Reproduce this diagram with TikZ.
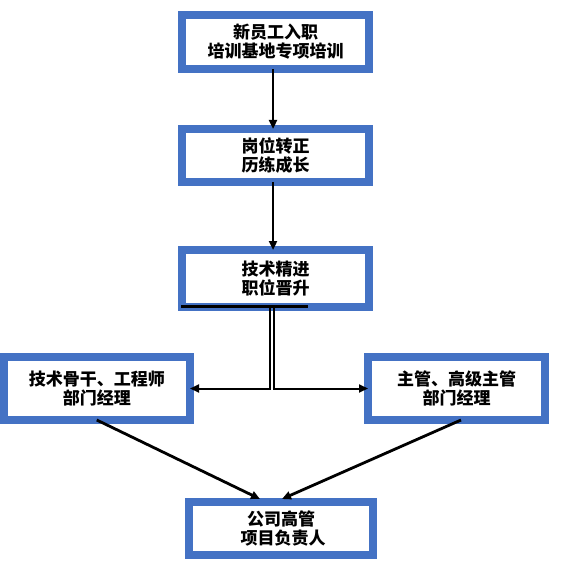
\documentclass[tikz,border=0pt]{standalone}
\usepackage{fontspec}
\setmainfont{Noto Sans CJK SC}
\usetikzlibrary{calc,arrows.meta}
\definecolor{boxblue}{HTML}{4472C4}
\tikzset{
  stagebox/.style={draw=boxblue, line width=8pt, fill=white, outer sep=0pt,
    inner sep=0pt, align=center, font=\fontsize{17}{19}\selectfont\bfseries},
  flowarrow/.style={line width=2.8pt, -{Triangle[length=9pt,width=8pt]}},
  elbowarrow/.style={line width=2pt, -{Triangle[length=9pt,width=8pt]}}
}
\begin{document}
\begin{tikzpicture}[x=1pt,y=-1pt]
\useasboundingbox (0,0) rectangle (582,588);
\node[stagebox, minimum width=187pt, minimum height=54pt] (b1) at (275.5,42) {新员工入职\\培训基地专项培训};
\node[stagebox, minimum width=187pt, minimum height=53pt] (b2) at (275.5,155.5) {岗位转正\\历练成长};
\node[stagebox, minimum width=187pt, minimum height=57pt] (b3) at (275.5,278.5) {技术精进\\职位晋升};
\node[stagebox, minimum width=186.5pt, minimum height=63pt] (b4) at (96.75,388.5) {技术骨干、工程师\\部门经理};
\node[stagebox, minimum width=177pt, minimum height=63pt] (b5) at (456.5,388.5) {主管、高级主管\\部门经理};
\node[stagebox, minimum width=184pt, minimum height=53pt] (b6) at (281,528.5) {公司高管\\\hspace*{4pt}项目负责人};
% vertical arrows
\draw[flowarrow] ($(b1.south)+(-2.5,0)$) -- ($(b2.north)+(-2.5,0)$);
\draw[flowarrow] ($(b2.south)+(-2.5,0)$) -- ($(b3.north)+(-2.5,0)$);
% black bar under box 3
\draw[line width=3pt] ($(b3.south west)+(-1,-1)$) -- ($(b3.south west)+(126,-1)$);
% elbow connectors
\draw[elbowarrow] ($(b3.south)+(-5.5,-1)$) |- (b4.east);
\draw[elbowarrow] ($(b3.south)+(-1.5,-1)$) |- (b5.west);
% diagonal arrows
\draw[flowarrow] (b4.south) -- ($(b6.north)+(-21,-3)$);
\draw[flowarrow] ($(b5.south)+(4.5,0)$) -- ($(b6.north)+(1,-3)$);
\end{tikzpicture}
\end{document}
